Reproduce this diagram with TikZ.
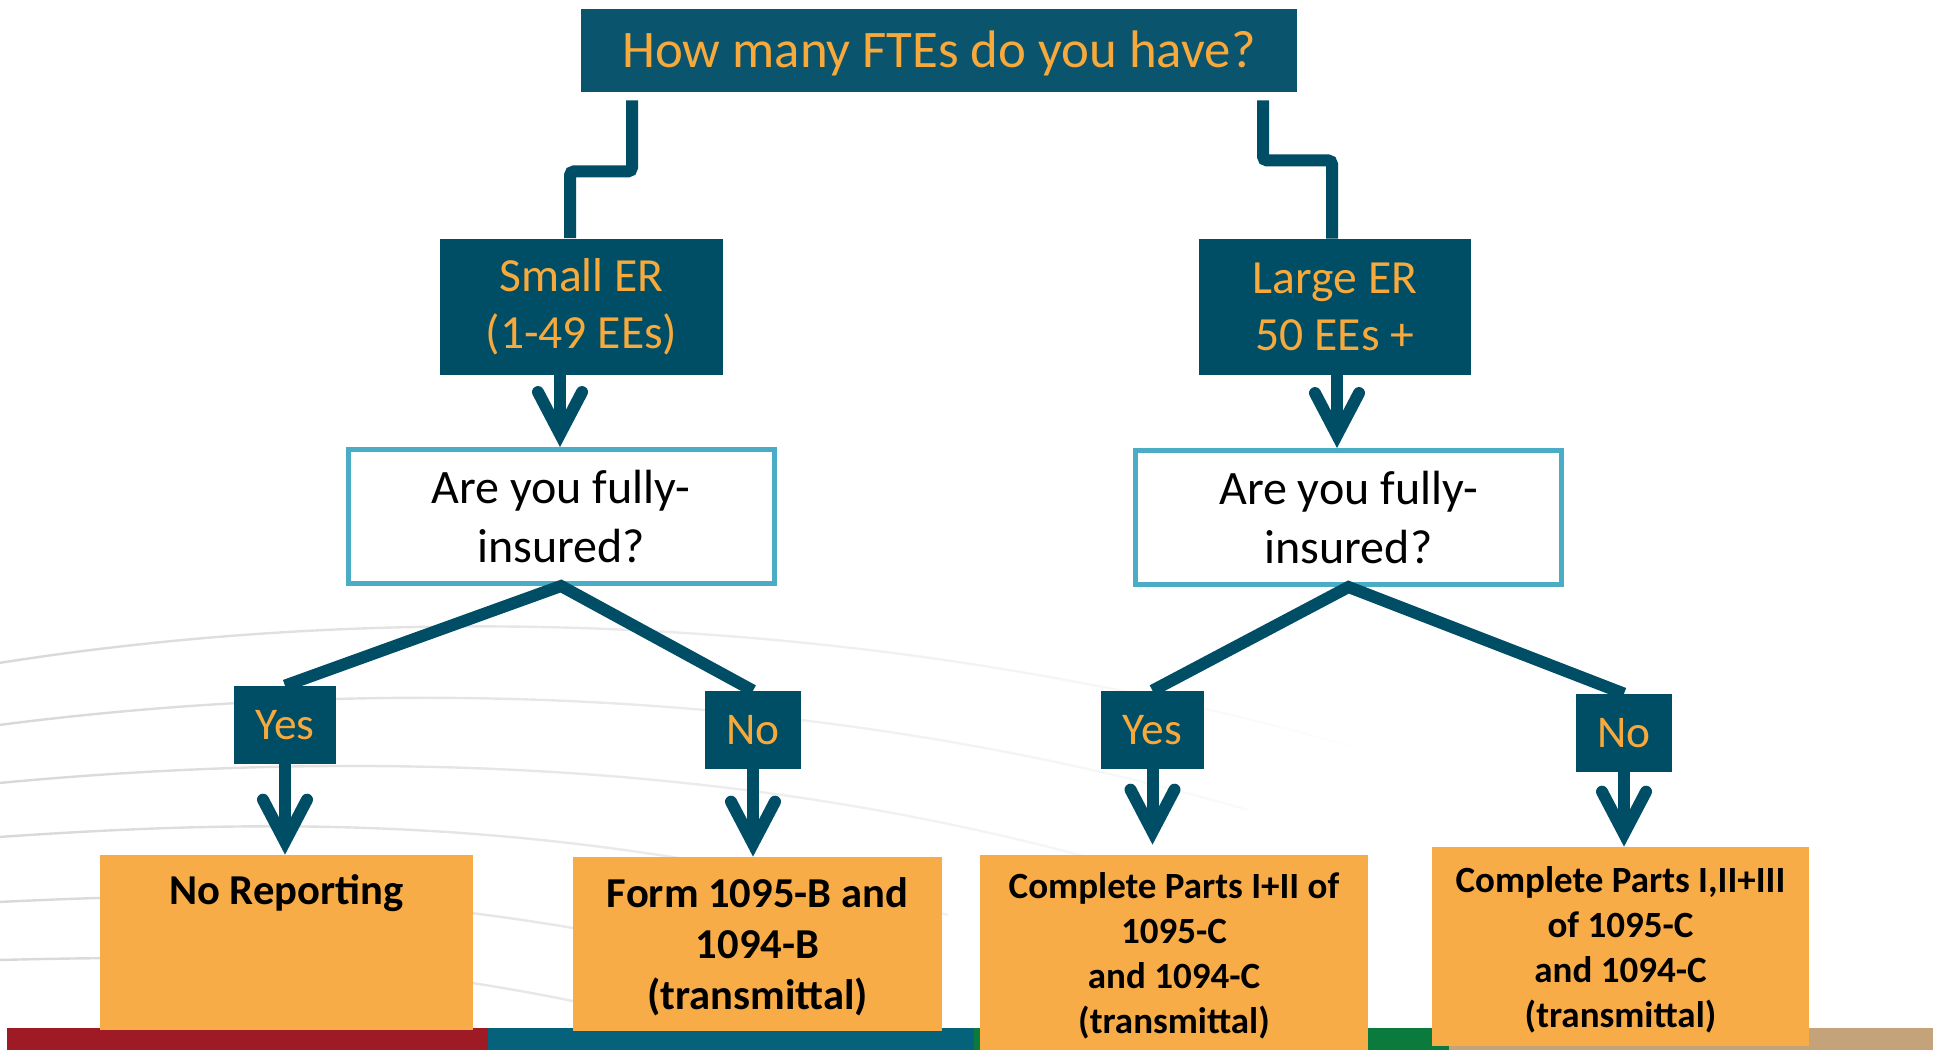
\documentclass[tikz,border=0pt]{standalone}
\usepackage{fontspec}
\setmainfont{Carlito}
\usetikzlibrary{arrows.meta,positioning,fadings}
\definecolor{erblue}{HTML}{004D66}
\definecolor{topblue}{HTML}{0A546E}
\definecolor{ertext}{HTML}{F7A93B}
\definecolor{insline}{HTML}{4BACC6}
\definecolor{outfill}{HTML}{F8AC48}
\definecolor{arcgray}{HTML}{D8D8D8}
\definecolor{barred}{HTML}{9E1B25}
\definecolor{barteal}{HTML}{05627A}
\definecolor{bargreen}{HTML}{0A7B3C}
\definecolor{bartan}{HTML}{C4A27A}

\begin{document}
\begin{tikzpicture}[x=0.5pt,y=-0.5pt,
darkbox/.style={rectangle,fill=erblue,text=ertext,inner sep=0pt,align=center},
insbox/.style={rectangle,draw=insline,line width=2.5pt,fill=white,inner sep=0pt,align=center,minimum width=213pt,minimum height=67pt,font=\fontsize{24}{29.5}\selectfont},
ansbox/.style={darkbox,minimum height=39pt,font=\fontsize{22.7}{26}\selectfont},
outbox/.style={rectangle,fill=outfill,inner sep=0pt},
outtext/.style={inner sep=0pt,align=center,font=\bfseries\fontsize{21.3}{25.5}\selectfont},
outsmall/.style={outtext,font=\bfseries\fontsize{18.5}{22.4}\selectfont},
link/.style={erblue,line width=6pt},
arrow/.style={link,-{Straight Barb[length=21pt,width=22pt,line width=6pt,line cap=round,line join=miter]}},
arcline/.style={arcgray,line width=1.2pt,path fading=east}]
\useasboundingbox (0,0) rectangle (1933,1050);

\draw[arcline] (0,663) .. controls (400,600) and (900,610) .. (1400,760)
(0,725) .. controls (350,680) and (800,680) .. (1250,810)
(0,783) .. controls (300,755) and (700,750) .. (1100,860)
(0,837) .. controls (250,820) and (550,810) .. (950,915)
(0,902) .. controls (250,890) and (450,890) .. (800,975)
(0,960) .. controls (200,955) and (400,955) .. (680,1025);

\fill[barred] (7,1028) rectangle (488,1050);
\fill[barteal] (488,1028) rectangle (974,1050);
\fill[bargreen] (974,1028) rectangle (1449,1050);
\fill[bartan] (1449,1028) rectangle (1933,1050);

\node[darkbox,fill=topblue,minimum width=358pt,minimum height=41.5pt,text depth=1.5pt,font=\fontsize{26.4}{31}\selectfont] (fte) at (939,50.5) {How many FTEs do you have?};
\node[darkbox,minimum width=141.5pt,minimum height=68pt,font=\fontsize{23.8}{28.5}\selectfont] (small) at (581.5,306.5) {Small ER\\(1-49 EEs)};
\node[darkbox,minimum width=136pt,minimum height=68pt,font=\fontsize{23.8}{28.5}\selectfont] (large) at (1335,307) {Large ER\\50 EEs +};
\node[insbox] (insL) at (561,516.5) {Are you fully-\\insured?};
\node[insbox] (insR) at (1348.5,517.5) {Are you fully-\\insured?};
\node[ansbox,minimum width=51pt] (yesL) at (285,725) {Yes};
\node[ansbox,minimum width=48pt] (noL) at (753,730) {No};
\node[ansbox,minimum width=51.5pt] (yesR) at (1152.5,730) {Yes};
\node[ansbox,minimum width=48pt] (noR) at (1624,733) {No};

\node[outbox,minimum width=186.5pt,minimum height=87.5pt] (repA) at (286.5,942.5) {};
\node[outbox,minimum width=184.5pt,minimum height=87pt] (repB) at (757.5,944) {};
\node[outbox,minimum width=194pt,minimum height=97.5pt] (repC) at (1174,952.5) {};
\node[outbox,minimum width=188.5pt,minimum height=99.5pt] (repD) at (1620.5,946.5) {};
\node[outtext,below=10pt of repA.north] (txtA) {No Reporting};
\node[outtext,below=10.5pt of repB.north] (txtB) {Form 1095-B and\\1094-B\\(transmittal)};
\node[outsmall,below=9pt of repC.north] (txtC) {Complete Parts I+II of\\1095-C\\and 1094-C\\(transmittal)};
\node[outsmall,below=10pt of repD.north] (txtD) {Complete Parts I,II+III\\of 1095-C\\and 1094-C\\(transmittal)};

\draw[link,rounded corners=2pt] ([xshift=-153.5pt,yshift=-4pt]fte.south) -- ++(0,71) -| ([xshift=-5.75pt]small.north);
\draw[link,rounded corners=2pt] ([xshift=162pt,yshift=-4pt]fte.south) -- ++(0,60) -| ([xshift=-1.5pt]large.north);
\draw[arrow] ([xshift=-10.75pt]small.south) -- ([xshift=-10.75pt]small.south |- insL.north);
\draw[arrow] ([xshift=1pt]large.south) -- ([xshift=1pt]large.south |- insR.north);
\draw[link,line join=miter] (yesL.north) -- (insL.south) -- (noL.north);
\draw[link,line join=miter] (yesR.north) -- (insR.south) -- (noR.north);
\draw[arrow] (yesL.south) -- (yesL.south |- repA.north);
\draw[arrow] (noL.south) -- (noL.south |- repB.north);
\draw[arrow,shorten >=5pt] (yesR.south) -- (yesR.south |- repC.north);
\draw[arrow] (noR.south) -- (noR.south |- repD.north);

\end{tikzpicture}
\end{document}
